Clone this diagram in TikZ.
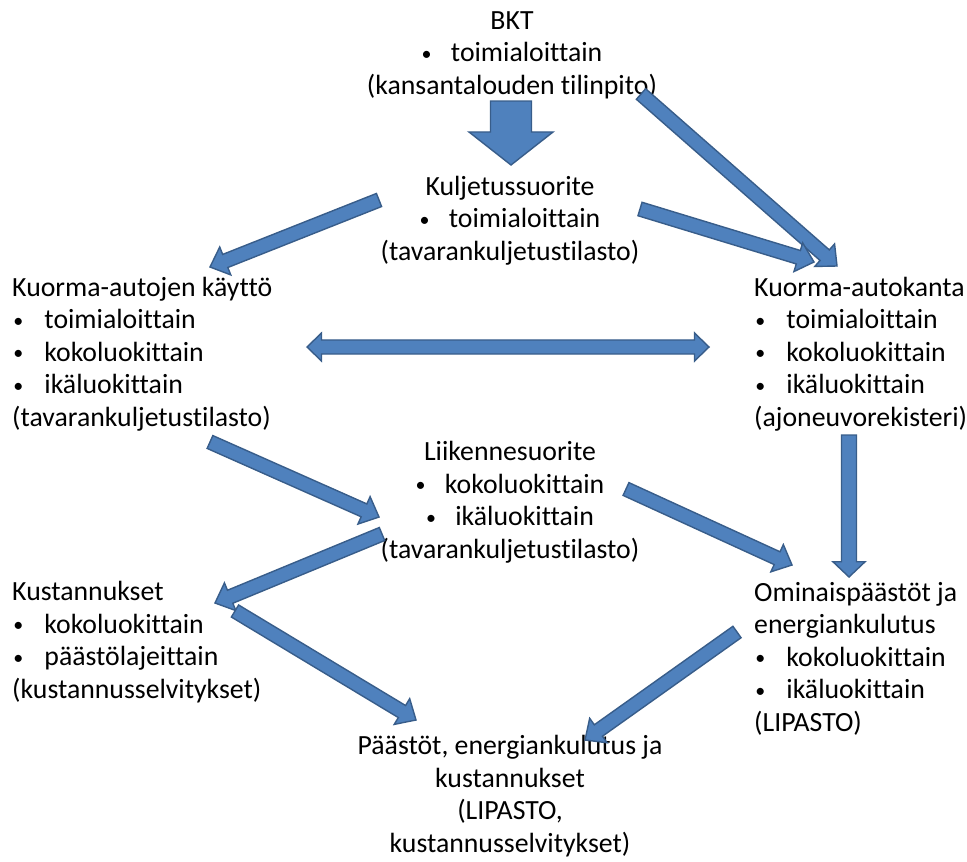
\documentclass[tikz,border=0pt]{standalone}
\usepackage{fontspec}
\usepackage{graphicx}
\setmainfont{Carlito}[Ligatures={NoCommon}]
\usetikzlibrary{calc}
\definecolor{arrfill}{HTML}{4F81BD}
\definecolor{arrline}{HTML}{385D8A}
\tikzset{
  txt/.style={inner sep=0pt,font=\fontsize{23.7}{27.7}\selectfont},
  lbox/.style={txt,align=left,anchor=base west},
  cbox/.style={txt,align=center,anchor=base},
  blockarr/.style={fill=arrfill,draw=arrline,line width=1.2pt,line join=miter}
}
\newcommand{\dotmark}{\raisebox{1.3pt}{\scalebox{0.72}{\textbullet}}}
\newcommand{\bul}[1]{\makebox[27.5pt][l]{\hspace{1pt}\dotmark}#1}
\newcommand{\cbul}[1]{\makebox[25pt][l]{\dotmark}#1}
\newcommand{\blockarrow}[5]{%
  \coordinate (bah) at ($(#2)!#5!(#1)$);
  \filldraw[blockarr] ($(#1)!#3!90:(#2)$) -- ($(bah)!#3!-90:(#1)$) -- ($(bah)!#4!-90:(#1)$) -- (#2)
    -- ($(bah)!#4!90:(#1)$) -- ($(bah)!#3!90:(#1)$) -- ($(#1)!#3!-90:(#2)$) -- cycle;
}
\newcommand{\dblarrow}[5]{%
  \coordinate (dah) at ($(#1)!#5!(#2)$);
  \coordinate (dak) at ($(#2)!#5!(#1)$);
  \filldraw[blockarr] (#1) -- ($(dah)!#4!90:(#2)$) -- ($(dah)!#3!90:(#2)$) -- ($(dak)!#3!-90:(#1)$)
    -- ($(dak)!#4!-90:(#1)$) -- (#2) -- ($(dak)!#4!90:(#1)$) -- ($(dak)!#3!90:(#1)$)
    -- ($(dah)!#3!-90:(#2)$) -- ($(dah)!#4!-90:(#2)$) -- cycle;
}
\begin{document}
\begin{tikzpicture}[x=0.8536pt,y=-0.8536pt]
\useasboundingbox (0,0) rectangle (967,861);
\node(bkt)[cbox] at (512,94){BKT\\\cbul{toimialoittain}\\(kansantalouden tilinpito)};
\node(kulj)[cbox] at (510,260){Kuljetussuorite\\\cbul{toimialoittain}\\(tavarankuljetustilasto)};
\node(kayt)[lbox] at (12,426){Kuorma-autojen käyttö\\\bul{toimialoittain}\\\bul{kokoluokittain}\\\bul{ikäluokittain}\\(tavarankuljetustilasto)};
\node(kanta)[lbox] at (754,426){Kuorma-autokanta\\\bul{toimialoittain}\\\bul{kokoluokittain}\\\bul{ikäluokittain}\\(ajoneuvorekisteri)};
\node(liik)[cbox] at (510,558){Liikennesuorite\\\cbul{kokoluokittain}\\\cbul{ikäluokittain}\\(tavarankuljetustilasto)};
\node(kust)[lbox] at (12,698){Kustannukset\\\bul{kokoluokittain}\\\bul{päästölajeittain}\\(kustannusselvitykset)};
\node(omin)[lbox] at (754,731){Ominaispäästöt ja\\energiankulutus\\\bul{kokoluokittain}\\\bul{ikäluokittain}\\(LIPASTO)};
\node(paas)[cbox] at (510,852){Päästöt, energiankulutus ja\\kustannukset\\(LIPASTO,\\kustannusselvitykset)};
\coordinate(s1) at (511,101); \coordinate(e1) at (511,165);
\coordinate(s2) at (641,94); \coordinate(e2) at (837,266);
\coordinate(s3) at (640,209); \coordinate(e3) at (814,262);
\coordinate(s4) at (379,200); \coordinate(e4) at (210,267);
\coordinate(s5) at (307,347); \coordinate(e5) at (709,347);
\coordinate(s6) at (210,442); \coordinate(e6) at (379,517);
\coordinate(s7) at (382,534); \coordinate(e7) at (215,603);
\coordinate(s8) at (235,611); \coordinate(e8) at (416,720);
\coordinate(s9) at (626,489); \coordinate(e9) at (792,565);
\coordinate(s10) at (849,435); \coordinate(e10) at (849,577);
\coordinate(s11) at (737,632); \coordinate(e11) at (585,740);
\blockarrow{s1}{e1}{17.5pt}{35.9pt}{28.2pt}
\blockarrow{s2}{e2}{6pt}{12.8pt}{14pt}
\blockarrow{s3}{e3}{6pt}{12.8pt}{14pt}
\blockarrow{s4}{e4}{6pt}{12.8pt}{14pt}
\dblarrow{s5}{e5}{6pt}{12pt}{12.4pt}
\blockarrow{s6}{e6}{6pt}{12.8pt}{14pt}
\blockarrow{s7}{e7}{6pt}{12.8pt}{14pt}
\blockarrow{s8}{e8}{6pt}{12.8pt}{14pt}
\blockarrow{s9}{e9}{6pt}{12.8pt}{14pt}
\blockarrow{s10}{e10}{6.4pt}{13.7pt}{13pt}
\blockarrow{s11}{e11}{6pt}{12.8pt}{14pt}
\end{tikzpicture}
\end{document}
